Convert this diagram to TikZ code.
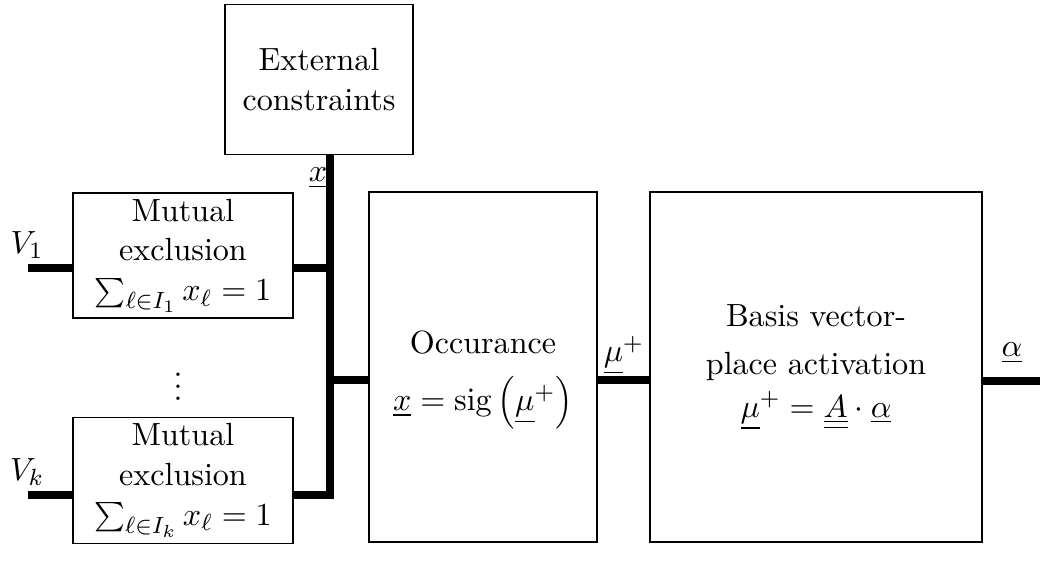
\documentclass[tikz,border=0pt]{standalone}
\usetikzlibrary{positioning}

\begin{document}
\begin{tikzpicture}[
    x=0.012cm, y=-0.012cm, % one unit = one pixel of the sketch, y downwards
    every node/.style={font=\fontsize{10.95}{13.6}\selectfont},
    block/.style={draw, line width=0.5pt, align=center, inner sep=2pt},
    wire/.style={line width=3pt, line join=miter},
  ]
\useasboundingbox (0,0) rectangle (1046,574);

% blocks
\node[block, minimum width=2.256cm, minimum height=1.8cm] (ext) at (319,79.5) {External\\constraints};
\node[block, minimum width=2.64cm, minimum height=1.5cm] (mut1) at (183,255.5)
  {Mutual\\exclusion\\$\sum_{\ell\in I_1} x_\ell = 1$};
\node[block, minimum width=2.64cm, minimum height=1.476cm] (mut2) at (183,480.5)
  {Mutual\\exclusion\\$\sum_{\ell\in I_k} x_\ell = 1$};
\node[block, minimum width=2.736cm, minimum height=4.2cm] (occ) at (483,367) {};
\node[align=center] (occtext) at (483,380)
  {Occurance\\[6pt]$\underline{x} = \mathrm{sig}\left(\underline{\mu}^+\right)$};
\node[block, minimum width=3.984cm, minimum height=4.2cm] (basis) at (816,367)
  {Basis vector-\\[3pt]place activation\\[1pt]$\underline{\mu}^+ = \underline{\underline{A}}\cdot\underline{\alpha}$};

% wire ends
\coordinate (bus) at (330,380);
\coordinate (in1) at (28,268);
\coordinate (ink) at (28,495);
\coordinate (out) at (1040,381);

% wires
\draw[wire] (in1) -- (in1 -| mut1.west);
\draw[wire] (ink) -- (ink -| mut2.west);
\draw[wire] (in1 -| mut1.east) -- (in1 -| bus);
\draw[wire] (ext.south -| bus) -- (ink -| bus) -- (ink -| mut2.east);
\draw[wire] (bus) -- (bus -| occ.west);
\draw[wire] (bus -| occ.east) -- (bus -| basis.west);
\draw[wire] (basis.east |- out) -- (out);

% labels
\node (lx) at (318,178) {$\underline{x}$};
\node (lv1) at (27,245) {$V_1$};
\node (lvk) at (27,472) {$V_k$};
\node (lmu) at (624,355) {$\underline{\mu}^+$};
\node (lal) at (1012,353) {$\underline{\alpha}$};
\node (dots) at (178,378) {$\vdots$};
\end{tikzpicture}
\end{document}
